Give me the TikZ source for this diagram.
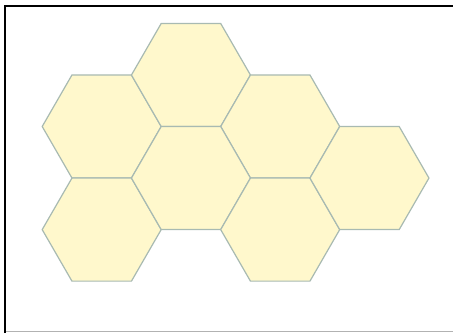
\documentclass[tikz,border=0pt]{standalone}
\usetikzlibrary{shapes.geometric}

\definecolor{combfill}{HTML}{FFF8CC}
\definecolor{combline}{HTML}{A8BAB2}

\begin{document}
\begin{tikzpicture}[x=1pt, y=-1pt,
	cell/.style={regular polygon, regular polygon sides=6, minimum size=119pt, inner sep=0pt,
		draw=combline, fill=combfill, line width=1.2pt}]
	\useasboundingbox (0,0) rectangle (453,333);
	\fill[white] (0,0) rectangle (453,333);
	% frame
	\draw[black, line width=2pt] (5,333) -- (5,5.5) -- (453,5.5);
	\draw[black!30, line width=1.2pt] (6,331.5) -- (453,331.5);
	% honeycomb cells: column step 1.5R, row step sqrt(3)R
	\foreach \name/\cx/\cy in {upleft/101.7/126.5, top/190.95/75, upright/280.2/126.5,
		lowleft/101.7/229.6, mid/190.95/178.05, lowmid/280.2/229.6, right/369.45/178.05} {
		\node[cell] (\name) at (\cx,\cy) {};
	}
\end{tikzpicture}
\end{document}
